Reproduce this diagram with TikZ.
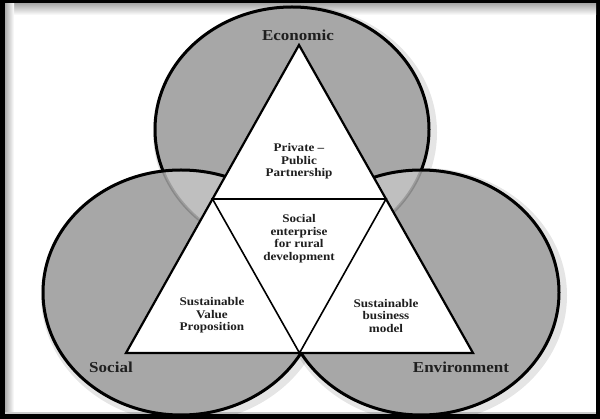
\documentclass[tikz,border=0pt]{standalone}
\usepackage{fontspec}
\usetikzlibrary{calc}
\newfontfamily\lblfont[FakeStretch=1.12]{Liberation Serif}
\definecolor{circfill}{gray}{0.655}
\definecolor{lapfill}{gray}{0.75}
\begin{document}
\begin{tikzpicture}[x=1pt,y=-1pt,
  circ/.style={line width=3pt, draw=black},
  tri/.style={line width=2.2pt, draw=black, line join=miter},
  innertri/.style={line width=1.6pt, draw=black},
  big/.style={font=\lblfont\bfseries\fontsize{15.2}{17}\selectfont, text=black!88, inner sep=0pt},
  small/.style={font=\lblfont\bfseries\fontsize{11.7}{12.5}\selectfont, align=center, text=black!88, inner sep=0pt},
  topell/.style={x radius=137, y radius=122.5},
  botell/.style={x radius=138, y radius=122.5}
]
\useasboundingbox (0,0) rectangle (600,419);
% frame
\fill[black] (0,0) rectangle (600,419);
\fill[white] (5,4) rectangle (596,414);
\shade[top color=gray!65, bottom color=white] (5,4) rectangle (596,15);
\shade[left color=gray!65, right color=white] (5,4) rectangle (14,414);
\fill[gray!40] (5,412) rectangle (596,414);
% circle centres
\coordinate (ct) at (292,129.5);
\coordinate (cl) at (181,292.5);
\coordinate (cr) at (421,292.5);
% soft shadows
\draw[black, opacity=0.10, line width=10pt] ([shift={(3,3)}]ct) ellipse [topell];
\draw[black, opacity=0.10, line width=10pt] ([shift={(3,3)}]cl) ellipse [botell];
\draw[black, opacity=0.10, line width=10pt] ([shift={(3,3)}]cr) ellipse [botell];
% circles
\draw[circ, fill=circfill] (ct) ellipse [topell];
\fill[circfill] (cl) ellipse [botell];
\fill[circfill] (cr) ellipse [botell];
\begin{scope}
  \clip (ct) ellipse [topell];
  \fill[lapfill] (cl) ellipse [botell];
  \fill[lapfill] (cr) ellipse [botell];
\end{scope}
\begin{scope}
  \clip (cl) ellipse [botell];
  \draw[black, opacity=0.18, line width=3pt] (ct) ellipse [topell];
\end{scope}
\begin{scope}
  \clip (cr) ellipse [botell];
  \draw[black, opacity=0.18, line width=3pt] (ct) ellipse [topell];
\end{scope}
\draw[circ] (cl) ellipse [botell];
\draw[circ] (cr) ellipse [botell];
% triangle
\coordinate (A) at (299,45);
\coordinate (B) at (126,353);
\coordinate (C) at (473,353);
\coordinate (AB) at ($(A)!0.5!(B)$);
\coordinate (AC) at ($(A)!0.5!(C)$);
\coordinate (BC) at ($(B)!0.5!(C)$);
\draw[tri, fill=white] (A) -- (B) -- (C) -- cycle;
\draw[innertri] (AB) -- (AC) -- (BC) -- cycle;
% labels
\node[big] (eco) at (298,35) {Economic};
\node[big] (soc) at (111,367) {Social};
\node[big] (env) at (461,367) {Environment};
\node[small] (ppp) at (299,161.5) {Private –\\Public\\Partnership};
\node[small] (se) at (299,238.5) {Social\\enterprise\\for rural\\development};
\node[small] (svp) at (212,315.5) {Sustainable\\Value\\Proposition};
\node[small] (sbm) at (386,315.5) {Sustainable\\business\\model};
\end{tikzpicture}
\end{document}
